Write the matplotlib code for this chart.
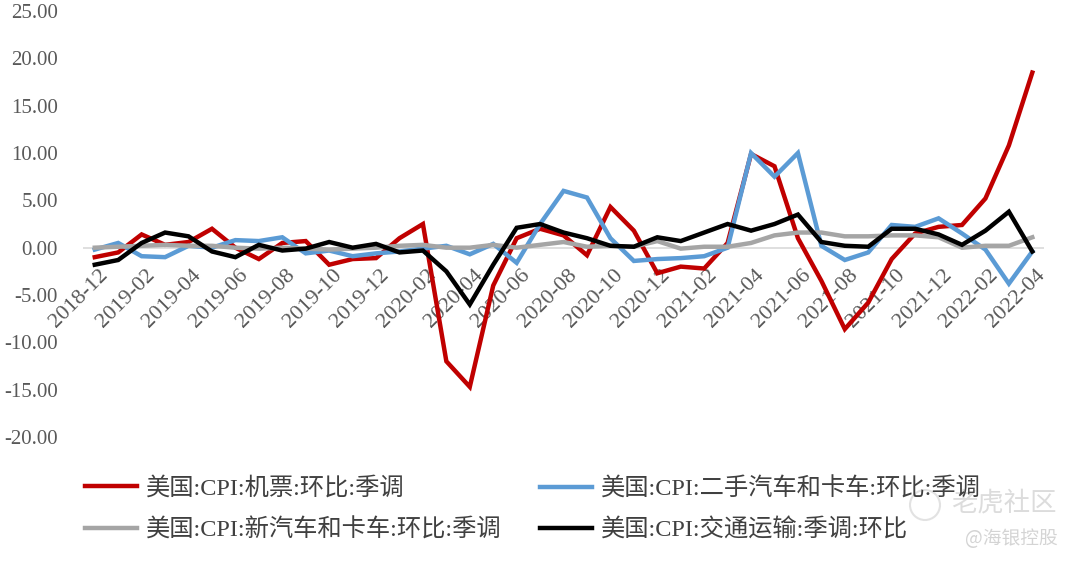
import matplotlib
matplotlib.use("Agg")
import matplotlib.pyplot as plt
from matplotlib.patches import Ellipse
import numpy as np

months = ["2018-12", "2019-01", "2019-02", "2019-03", "2019-04", "2019-05", "2019-06",
          "2019-07", "2019-08", "2019-09", "2019-10", "2019-11", "2019-12",
          "2020-01", "2020-02", "2020-03", "2020-04", "2020-05", "2020-06",
          "2020-07", "2020-08", "2020-09", "2020-10", "2020-11", "2020-12",
          "2021-01", "2021-02", "2021-03", "2021-04", "2021-05", "2021-06",
          "2021-07", "2021-08", "2021-09", "2021-10", "2021-11", "2021-12",
          "2022-01", "2022-02", "2022-03", "2022-04"]

airfare = [-1.0, -0.5, 1.4, 0.3, 0.6, 2.0, 0.0, -1.2, 0.5, 0.7, -1.8, -1.2, -1.1,
           1.0, 2.5, -12.0, -14.7, -4.0, 1.0, 2.0, 1.3, -0.8, 4.3, 1.8, -2.7,
           -2.0, -2.2, 0.5, 9.9, 8.6, 1.0, -3.5, -8.6, -5.8, -1.2, 1.5, 2.2,
           2.4, 5.2, 10.8, 18.5]

used_cars = [-0.2, 0.5, -0.9, -1.0, 0.2, 0.0, 0.8, 0.7, 1.1, -0.6, -0.3, -0.9, -0.6,
             -0.4, -0.1, 0.2, -0.7, 0.4, -1.6, 2.5, 6.0, 5.3, 1.0, -1.4, -1.2,
             -1.1, -0.9, 0.0, 10.0, 7.5, 10.0, 0.2, -1.3, -0.5, 2.4, 2.2, 3.1,
             1.5, -0.2, -3.8, -0.4]

new_cars = [0.0, 0.1, 0.2, 0.3, 0.2, 0.2, 0.0, -0.1, 0.0, -0.1, -0.2, -0.1, 0.0,
            0.2, 0.3, 0.0, 0.0, 0.3, 0.0, 0.3, 0.6, 0.1, 0.2, 0.1, 0.7,
            -0.1, 0.1, 0.1, 0.5, 1.3, 1.6, 1.6, 1.2, 1.2, 1.3, 1.3, 1.1,
            0.0, 0.2, 0.2, 1.1]

transport = [-1.8, -1.3, 0.5, 1.6, 1.2, -0.4, -1.0, 0.3, -0.3, -0.1, 0.6, 0.0, 0.4,
             -0.5, -0.3, -2.5, -6.0, -1.8, 2.1, 2.5, 1.6, 1.0, 0.2, 0.1, 1.1,
             0.7, 1.6, 2.5, 1.8, 2.5, 3.5, 0.6, 0.2, 0.1, 2.0, 2.0, 1.4,
             0.3, 1.8, 3.8, -0.4]

series_names = ["美国:CPI:机票:环比:季调", "美国:CPI:二手汽车和卡车:环比:季调",
                "美国:CPI:新汽车和卡车:环比:季调", "美国:CPI:交通运输:季调:环比"]
y_ticks = [-20, -15, -10, -5, 0, 5, 10, 15, 20, 25]

fonts = ["Liberation Serif", "Noto Sans CJK SC", "DejaVu Sans"]
plt.rcParams["font.family"] = fonts

fig = plt.figure(figsize=(10.8, 5.65), dpi=100)
ax = fig.add_axes([0.0769, 0.2265, 0.8898, 0.754])

x = np.arange(len(months))
ax.axhline(0, color="#D9D9D9", lw=1.2, zorder=1)
colors = ["#C00000", "#5B9BD5", "#A5A5A5", "#000000"]
data = [airfare, used_cars, new_cars, transport]
lines = []
for vals, c, name in zip(data, colors, series_names):
    ln, = ax.plot(x, vals, color=c, lw=3.2, label=name, solid_joinstyle="miter", zorder=2)
    lines.append(ln)

ax.set_xlim(-0.5, len(months) - 0.5)
ax.set_ylim(-20, 25)
ax.set_yticks(y_ticks)
ax.set_yticklabels([f"{v:.2f}" for v in y_ticks], color="#595959", fontsize=15)
ax.tick_params(axis="y", length=0, pad=18)
for s in ax.spines.values():
    s.set_visible(False)

ax.set_xticks([])
for i in range(0, len(months), 2):
    ax.annotate(months[i], xy=(i, 0), xycoords="data", xytext=(2.5, -13),
                textcoords="offset points", rotation=45, ha="right", va="top",
                rotation_mode="anchor", fontsize=16, color="#595959",
                annotation_clip=False, zorder=0)

# legend: two columns, row-wise order like the reference
col_x = [85 / 1080, 540 / 1080]
col_items = [[0, 2], [1, 3]]
for cx, items in zip(col_x, col_items):
    leg = fig.legend([lines[k] for k in items], [series_names[k] for k in items],
                     loc="upper left", bbox_to_anchor=(cx, 1 - 477 / 565),
                     frameon=False, fontsize=17.5, handlelength=2.15,
                     handletextpad=0.35, labelspacing=0.75, borderpad=0,
                     borderaxespad=0)
    for t in leg.get_texts():
        t.set_color("#404040")

# watermark
fig.text(1057 / 1080, 1 - 503 / 565, "老虎社区", fontsize=19, color="#DCDCDC", ha="right",
         va="center", family=["Noto Sans CJK SC"])
fig.text(1058 / 1080, 1 - 539 / 565, "@海银控股", fontsize=13.5, color="#D4D4D4", ha="right",
         va="center", family=["Noto Sans CJK SC"])
fig.patches.append(Ellipse((925 / 1080, 1 - 505 / 565), 30 / 1080, 30 / 565,
                           transform=fig.transFigure, fill=False, ec="#E2E2E2", lw=1.5))

fig.savefig("out.png", dpi=100)
